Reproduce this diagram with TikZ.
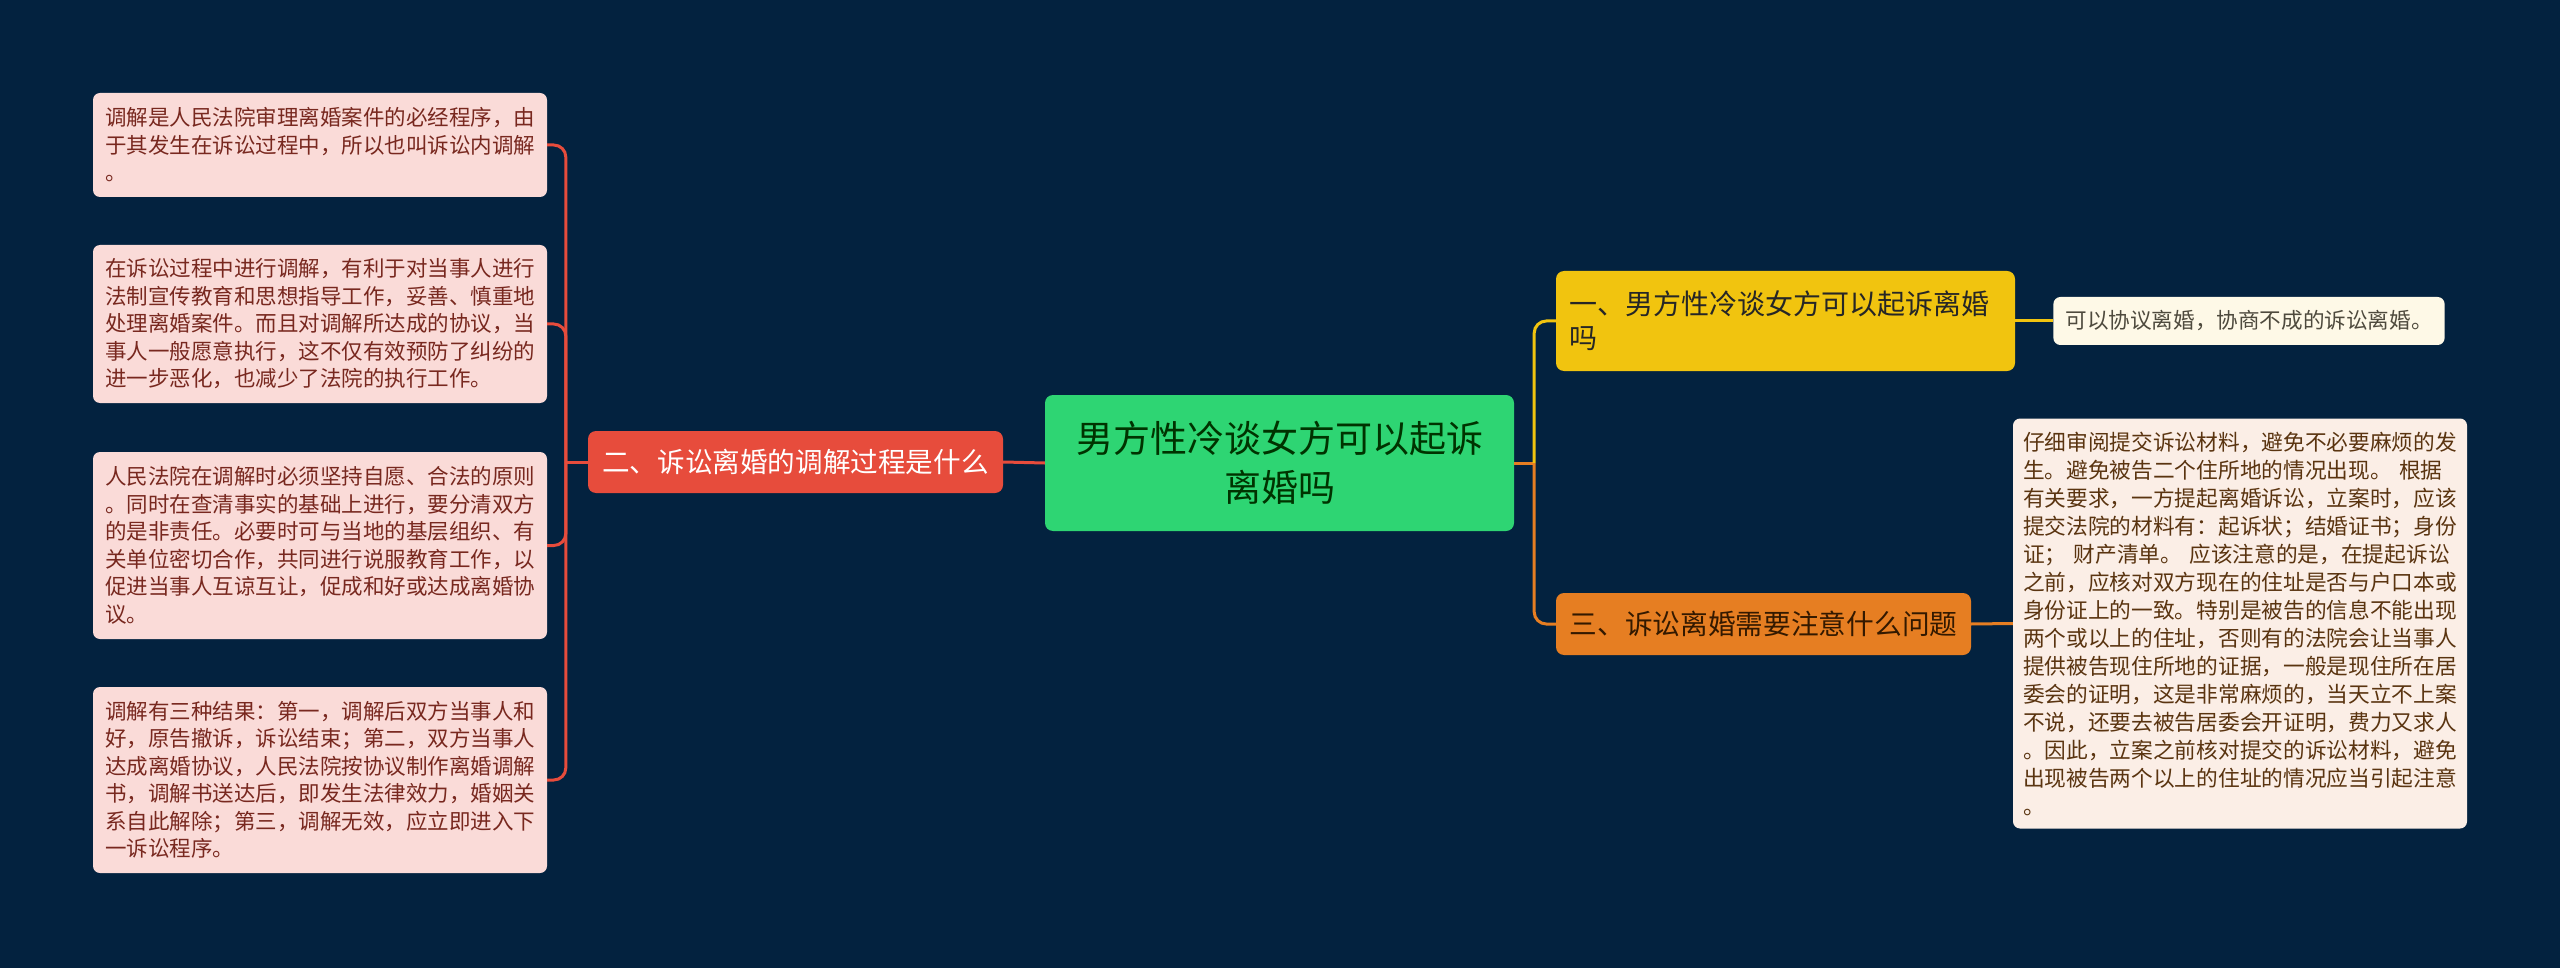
\documentclass[tikz,border=0pt]{standalone}
\usepackage{fontspec}
\setmainfont{Noto Sans CJK SC}

\definecolor{bgnavy}{HTML}{03223F}
\definecolor{topicgreen}{HTML}{2ED573}
\definecolor{topicred}{HTML}{E74C3C}
\definecolor{topicyellow}{HTML}{F1C40F}
\definecolor{topicorange}{HTML}{E67E22}
\definecolor{leafpink}{HTML}{FADBD8}
\definecolor{leafcream}{HTML}{FEF9E7}
\definecolor{leafpeach}{HTML}{FBEEE6}
\definecolor{inkred}{HTML}{78281F}
\definecolor{inkbrown}{HTML}{5A3410}

\tikzset{
  topic/.style={rounded corners=8pt, inner sep=0pt},
  leafbox/.style={rounded corners=7pt, inner xsep=12pt, inner ysep=0pt, align=left},
  wire/.style={line width=3pt, rounded corners=12pt}
}

\begin{document}
\begin{tikzpicture}[x=1pt,y=-1pt]
    \fill[bgnavy] (0,0) rectangle (2560,968);

    % centre and the three topics
    \node[topic, fill=topicgreen, text=black!80!green, minimum width=469pt, minimum height=136pt,
          align=center, font=\fontsize{37}{49}\selectfont] (centre) at (1279.5,463)
          {男方性冷谈女方可以起诉\\离婚吗};
    \node[topic, fill=topicred, text=white, minimum width=415pt, minimum height=62pt,
          font=\fontsize{27.6}{34}\selectfont] (two) at (795.5,462) {二、诉讼离婚的调解过程是什么};
    \node[topic, fill=topicyellow, text=black!85, text width=433pt, inner xsep=13pt, minimum height=100pt,
          align=left, font=\fontsize{28}{34}\selectfont] (one) at (1785.5,321) {一、男方性冷谈女方可以起诉离婚\\吗};
    \node[topic, fill=topicorange, text=black!80!orange, minimum width=415pt, minimum height=62pt,
          font=\fontsize{27.7}{34}\selectfont] (three) at (1763.5,624) {三、诉讼离婚需要注意什么问题};

    % leaves on the left
    \begin{scope}[every node/.style={leafbox, fill=leafpink, text=inkred, text width=430pt,
          font=\fontsize{21.5}{27.5}\selectfont}]
    \node[minimum height=104pt] (leafa) at (320,145)
      {调解是人民法院审理离婚案件的必经程序，由\\于其发生在诉讼过程中，所以也叫诉讼内调解\\。};
    \node[minimum height=158pt] (leafb) at (320,324)
      {在诉讼过程中进行调解，有利于对当事人进行\\法制宣传教育和思想指导工作，妥善、慎重地\\处理离婚案件。而且对调解所达成的协议，当\\事人一般愿意执行，这不仅有效预防了纠纷的\\进一步恶化，也减少了法院的执行工作。};
    \node[minimum height=187pt] (leafc) at (320,545.5)
      {人民法院在调解时必须坚持自愿、合法的原则\\。同时在查清事实的基础上进行，要分清双方\\的是非责任。必要时可与当地的基层组织、有\\关单位密切合作，共同进行说服教育工作，以\\促进当事人互谅互让，促成和好或达成离婚协\\议。};
    \node[minimum height=186pt] (leafd) at (320,780)
      {调解有三种结果：第一，调解后双方当事人和\\好，原告撤诉，诉讼结束；第二，双方当事人\\达成离婚协议，人民法院按协议制作离婚调解\\书，调解书送达后，即发生法律效力，婚姻关\\系自此解除；第三，调解无效，应立即进入下\\一诉讼程序。};
    \end{scope}

    % leaves on the right
    \node[leafbox, fill=leafcream, text=black!80!yellow, inner xsep=12pt, minimum width=390pt, minimum height=48pt,
          align=center, font=\fontsize{21.6}{27}\selectfont] (leafone) at (2249,321)
          {可以协议离婚，协商不成的诉讼离婚。};
    \node[leafbox, fill=leafpeach, text=inkbrown, text width=434pt, inner xsep=10pt, minimum height=410pt,
          font=\fontsize{21.7}{28}\selectfont] (leafthree) at (2240,623.5)
      {仔细审阅提交诉讼材料，避免不必要麻烦的发\\生。避免被告二个住所地的情况出现。 根据\\有关要求，一方提起离婚诉讼，立案时，应该\\提交法院的材料有：起诉状；结婚证书；身份\\证； 财产清单。 应该注意的是，在提起诉讼\\之前，应核对双方现在的住址是否与户口本或\\身份证上的一致。特别是被告的信息不能出现\\两个或以上的住址，否则有的法院会让当事人\\提供被告现住所地的证据，一般是现住所在居\\委会的证明，这是非常麻烦的，当天立不上案\\不说，还要去被告居委会开证明，费力又求人\\。因此，立案之前核对提交的诉讼材料，避免\\出现被告两个以上的住址的情况应当引起注意\\。};

    % connectors
    \coordinate (lfork) at ([xshift=-22pt]two.west);
    \coordinate (rfork) at ([xshift=20pt]centre.east);
    \draw[wire, topicred] (centre.west) -- (two.east);
    \draw[wire, topicred] (two.west) -- (lfork);
    \foreach \leaf in {leafa,leafb,leafc,leafd}
      \draw[wire, topicred] (lfork) |- (\leaf.east);
    \draw[wire, topicorange] (centre.east) -- (rfork);
    \draw[wire, topicyellow] (rfork) |- (one.west);
    \draw[wire, topicorange] (rfork) |- (three.west);
    \draw[wire, topicyellow] (one.east) -- (leafone.west);
    \draw[wire, topicorange] (three.east) -- (leafthree.west);
\end{tikzpicture}
\end{document}
